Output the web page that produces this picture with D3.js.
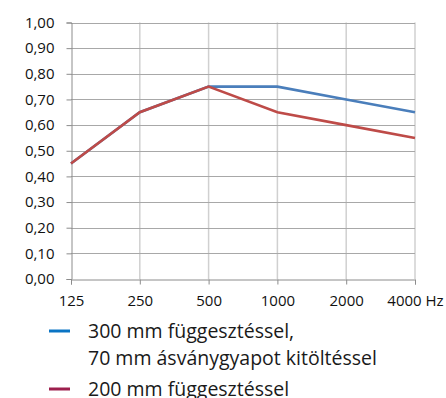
<!DOCTYPE html>
<html>
<head>
<meta charset="utf-8">
<script src="https://cdn.jsdelivr.net/npm/d3@7"></script>
<style>
  body { margin: 0; background: #fff; }
  svg { display: block; }
</style>
</head>
<body>
<div id="chart"></div>
<script>
// frequency bands and absorption values
const freqs = ['125', '250', '500', '1000', '2000', '4000'];
const freqLabels = ['125', '250', '500', '1000', '2000', '4000 Hz'];
const yTicks = [0, 0.1, 0.2, 0.3, 0.4, 0.5, 0.6, 0.7, 0.8, 0.9, 1.0];
const s300 = [0.45, 0.65, 0.75, 0.75, 0.70, 0.65];
const s200 = [0.45, 0.65, 0.75, 0.65, 0.60, 0.55];
const legendText300 = ['300 mm függesztéssel,', '70 mm ásványgyapot kitöltéssel'];
const legendText200 = ['200 mm függesztéssel'];

var W = 446, H = 398;
var pLeft = 71, pRight = 415, pTop = 22.5, pBottom = 279;

var svg = d3.select('#chart').append('svg')
  .attr('width', W)
  .attr('height', H);

var x = d3.scalePoint().domain(freqs).range([pLeft, pRight]);
var y = d3.scaleLinear().domain([0, 1]).range([pBottom, pTop]);

var fmt = d => d.toFixed(2).replace('.', ',');

// vertical grid
svg.append('g').selectAll('line')
  .data(freqs.slice(1))
  .enter().append('line')
  .attr('x1', d => x(d)).attr('x2', d => x(d))
  .attr('y1', pTop).attr('y2', pBottom)
  .attr('stroke', '#d0d0d0')
  .attr('stroke-width', 1.5);

// horizontal grid
svg.append('g').selectAll('line')
  .data(yTicks.slice(1))
  .enter().append('line')
  .attr('x1', pLeft).attr('x2', pRight)
  .attr('y1', d => Math.round(y(d)) + 0.5).attr('y2', d => Math.round(y(d)) + 0.5)
  .attr('stroke', '#a8a8a8');

// y axis
var yAxis = svg.append('g')
  .attr('transform', 'translate(' + (pLeft + 0.5) + ',0)')
  .call(d3.axisLeft(y).tickValues(yTicks).tickFormat(fmt).tickSize(5).tickPadding(12));
yAxis.select('.domain').attr('stroke', '#8c8c8c');
yAxis.selectAll('.tick line').attr('stroke', '#8c8c8c');
yAxis.selectAll('.tick text')
  .attr('font-family', '"Open Sans", sans-serif')
  .attr('font-size', 15)
  .attr('fill', '#111');

// x axis
var xAxis = svg.append('g')
  .attr('transform', 'translate(0,' + (pBottom + 0.5) + ')')
  .call(d3.axisBottom(x).tickFormat((d, i) => freqLabels[i]).tickSize(5).tickPadding(11));
xAxis.select('.domain').attr('stroke', '#8c8c8c');
xAxis.selectAll('.tick line').attr('stroke', '#8c8c8c');
xAxis.selectAll('.tick text')
  .attr('font-family', '"Open Sans", sans-serif')
  .attr('font-size', 15)
  .attr('fill', '#111');

var line = d3.line()
  .x((d, i) => x(freqs[i]))
  .y(d => y(d));

svg.append('path')
  .datum(s300)
  .attr('d', line)
  .attr('fill', 'none')
  .attr('stroke', '#4a7ebb')
  .attr('stroke-width', 2.6);

svg.append('path')
  .datum(s200)
  .attr('d', line)
  .attr('fill', 'none')
  .attr('stroke', '#be4b48')
  .attr('stroke-width', 2.6);

// legend
var legend = svg.append('g')
  .attr('font-family', '"Open Sans", sans-serif')
  .attr('font-size', 19.5)
  .attr('fill', '#1a1a1a');

var items = [
  {color: '#0a74c4', lines: legendText300, y: 331},
  {color: '#9c1f4d', lines: legendText200, y: 389}
];
items.forEach(function(it) {
  legend.append('line')
    .attr('x1', 49).attr('x2', 70)
    .attr('y1', it.y).attr('y2', it.y)
    .attr('stroke', it.color)
    .attr('stroke-width', 3);
  it.lines.forEach(function(t, i) {
    legend.append('text')
      .attr('x', 88)
      .attr('y', it.y + 7 + i * 27)
      .text(t);
  });
});
</script>
</body>
</html>
